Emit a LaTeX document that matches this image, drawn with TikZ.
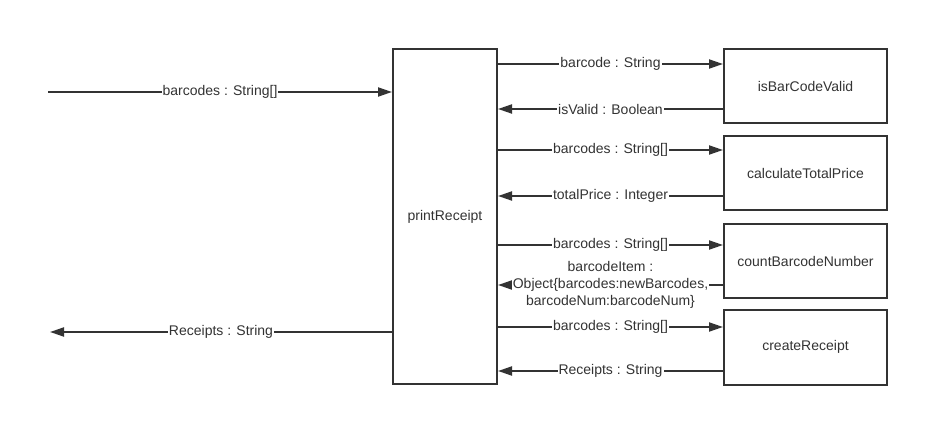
\documentclass[tikz,border=0pt]{standalone}
\usepackage{fontspec}
\setmainfont{Liberation Sans}
\usetikzlibrary{arrows.meta}
\definecolor{ink}{HTML}{333333}

\begin{document}
\begin{tikzpicture}[x=1pt,y=-1pt,font=\fontsize{14}{17}\selectfont,text=ink]
\tikzstyle{func} = [draw=ink, line width=2pt, inner sep=0pt, anchor=north west]
\tikzstyle{flow} = [draw=ink, line width=2pt, -{Triangle[length=14pt,width=9pt]}]
\tikzstyle{lbl} = [fill=white, inner sep=1pt, align=center]

\useasboundingbox (0,0) rectangle (948,446);

\node[func, minimum width=104pt, minimum height=335pt] (pr) at (392,48) {printReceipt};

\node[func, minimum width=163pt, minimum height=74.5pt] (bv) at (723,48) {isBarCodeValid};
\node[func, minimum width=163pt, minimum height=74.5pt] (tp) at (723,135) {calculateTotalPrice};
\node[func, minimum width=163pt, minimum height=74.5pt] (cn) at (723,223) {countBarcodeNumber};
\node[func, minimum width=163pt, minimum height=74.5pt] (cr) at (723,309) {createReceipt};

\coordinate (in) at (48,92);
\coordinate (out) at (50,332);

\draw[flow] (in) -- node[lbl] {barcodes : String[]} (pr.west |- in);
\draw[flow] (pr.west |- out) -- node[lbl] {Receipts : String} (out);

%\draw[flow] (pr) -- (bv);
\draw[flow] (pr.east |- 0,64) -- node[lbl] {barcode : String} (bv.west |- 0,64);
\draw[flow] (bv.west |- 0,109) -- node[lbl] {isValid : Boolean} (pr.east |- 0,109);

\draw[flow] (pr.east |- 0,150) -- node[lbl] {barcodes : String[]} (tp.west |- 0,150);
\draw[flow] (tp.west |- 0,196) -- node[lbl] {totalPrice : Integer} (pr.east |- 0,196);

\draw[flow] (pr.east |- 0,245) -- node[lbl] {barcodes : String[]} (cn.west |- 0,245);
\draw[flow] (cn.west |- 0,285) -- node[lbl] {barcodeItem :\\Object\{barcodes:newBarcodes,\\barcodeNum:barcodeNum\}} (pr.east |- 0,285);

\draw[flow] (pr.east |- 0,327) -- node[lbl] {barcodes : String[]} (cr.west |- 0,327);
\draw[flow] (cr.west |- 0,371) -- node[lbl] {Receipts : String} (pr.east |- 0,371);

\end{tikzpicture}
\end{document}
